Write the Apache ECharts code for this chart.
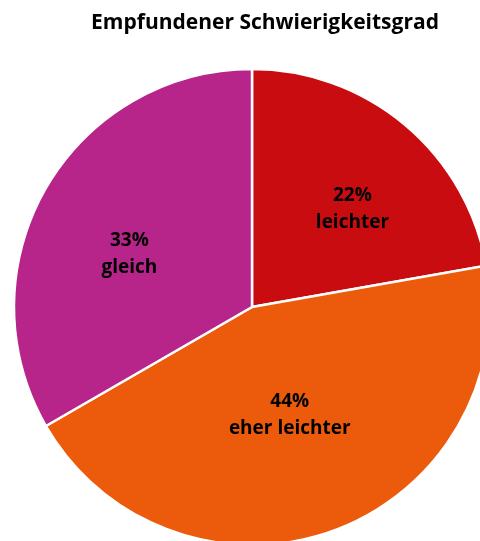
<!DOCTYPE html>
<html>
<head>
<meta charset="utf-8">
<script src="https://cdn.jsdelivr.net/npm/echarts@6/dist/echarts.min.js"></script>
<style>html,body{margin:0;padding:0;background:#fff}#c{width:480px;height:541px}</style>
</head>
<body>
<div id="c"></div>
<script>
const titleText = 'Empfundener Schwierigkeitsgrad';
const categories = ['leichter', 'eher leichter', 'gleich'];
const values = [2, 4, 3];
const colors = ['#C90C10', '#EC5B0B', '#B7248A'];
const labelShift = [[22, -4], [-4, -7], [-17, 8]];

const chart = echarts.init(document.getElementById('c'));
chart.setOption({
  animation: false,
  title: {
    text: titleText, left: 260, top: 8, textAlign: 'center',
    textStyle: { fontFamily: 'Open Sans', fontWeight: 'bold', fontSize: 21, color: '#000' }
  },
  series: [{
    type: 'pie',
    center: [252, 307],
    radius: [0, 238],
    startAngle: 90,
    clockwise: true,
    data: categories.map((c, i) => ({
      name: c, value: values[i],
      itemStyle: { color: colors[i] },
      label: { offset: labelShift[i] }
    })),
    itemStyle: { borderColor: '#fff', borderWidth: 2.5 },
    label: {
      position: 'inside',
      formatter: p => Math.round(p.percent) + '%\n' + p.name,
      fontFamily: 'Open Sans', fontWeight: 'bold', fontSize: 19, lineHeight: 27, color: '#000'
    },
    labelLine: { show: false },
    emphasis: { disabled: true }
  }]
});
</script>
</body>
</html>
